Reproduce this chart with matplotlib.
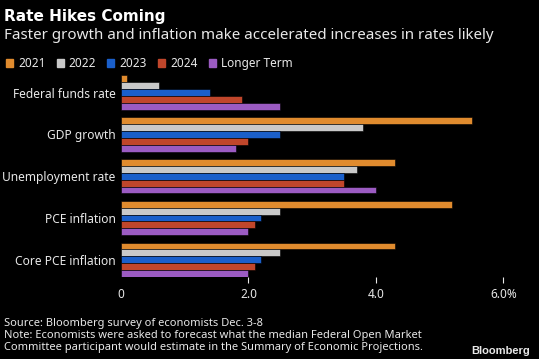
import matplotlib.pyplot as plt
import numpy as np
from matplotlib.patches import Patch

CATEGORIES = ["Federal funds rate", "GDP growth", "Unemployment rate",
              "PCE inflation", "Core PCE inflation"]
SERIES = ["2021", "2022", "2023", "2024", "Longer Term"]
VALUES_2021 = [0.1, 5.5, 4.3, 5.2, 4.3]
VALUES_2022 = [0.6, 3.8, 3.7, 2.5, 2.5]
VALUES_2023 = [1.4, 2.5, 3.5, 2.2, 2.2]
VALUES_2024 = [1.9, 2.0, 3.5, 2.1, 2.1]
VALUES_LONGER = [2.5, 1.8, 4.0, 2.0, 2.0]
X_TICKS = [0, 2, 4, 6]
X_TICK_LABELS = ["0", "2.0", "4.0", "6.0%"]

COLORS = ["#e08b2e", "#c9c9c9", "#1a5fca", "#c0462b", "#9b5bc2"]
BG = "#000000"
TEXT = "#e8e8e8"

plt.rcParams['font.family'] = ["Noto Sans", "DejaVu Sans"]

fig = plt.figure(figsize=(5.39, 3.59), dpi=100, facecolor=BG)
ax = fig.add_axes([0.2245, 0.2284, 0.934 - 0.2245, 0.7897 - 0.2284])
ax.set_facecolor(BG)

bar_h = 0.165
positions = np.arange(len(CATEGORIES))
all_values = [VALUES_2021, VALUES_2022, VALUES_2023, VALUES_2024, VALUES_LONGER]
for i, (vals, color) in enumerate(zip(all_values, COLORS)):
    ax.barh(positions + (i - 2) * bar_h, vals, height=bar_h, color=color,
            edgecolor=BG, linewidth=0.4)

ax.set_xlim(0, 6)
ax.set_ylim(len(CATEGORIES) - 1 + 2.5 * bar_h, -2.5 * bar_h)
ax.set_yticks(positions)
ax.set_yticklabels(CATEGORIES)
ax.set_xticks(X_TICKS)
ax.set_xticklabels(X_TICK_LABELS)
ax.tick_params(axis='y', length=0, pad=4, labelsize=8.6, labelcolor=TEXT)
ax.tick_params(axis='x', length=4, width=0.8, color=TEXT, pad=4,
               labelsize=8.5, labelcolor=TEXT)
ax.get_xticklines()[0].set_visible(False)
for spine in ax.spines.values():
    spine.set_visible(False)

fig.text(0.008, 0.955, "Rate Hikes Coming", color="white", fontsize=11,
         fontweight='bold', family="DejaVu Sans", va='center', ha='left')
fig.text(0.008, 0.9, "Faster growth and inflation make accelerated increases in rates likely",
         color=TEXT, fontsize=10.9, va='center', ha='left')

handles = [Patch(facecolor=c, edgecolor=c) for c in COLORS]
fig.legend(handles, SERIES, loc='center left', bbox_to_anchor=(0.011, 0.823),
           ncol=5, frameon=False, fontsize=8.5, labelcolor=TEXT,
           handlelength=0.6, handleheight=0.6, handletextpad=0.42,
           columnspacing=0.95, borderaxespad=0, borderpad=0)

fig.text(0.008, 0.1, "Source: Bloomberg survey of economists Dec. 3-8",
         color=TEXT, fontsize=8, va='center', ha='left')
fig.text(0.008, 0.066, "Note: Economists were asked to forecast what the median Federal Open Market",
         color=TEXT, fontsize=8, va='center', ha='left')
fig.text(0.008, 0.031, "Committee participant would estimate in the Summary of Economic Projections.",
         color=TEXT, fontsize=8, va='center', ha='left')
fig.text(0.983, 0.022, "Bloomberg", color=TEXT, fontsize=8,
         fontweight='bold', family="Liberation Sans", va='center', ha='right')

fig.savefig("out.png", dpi=100, facecolor=BG)
